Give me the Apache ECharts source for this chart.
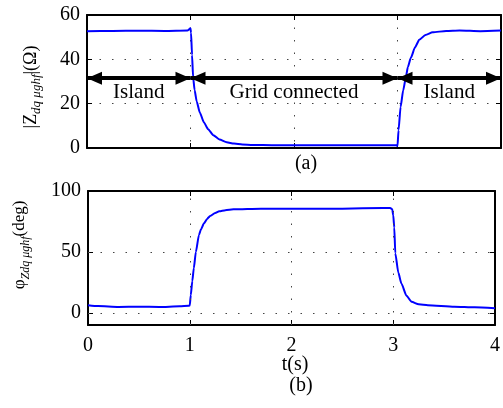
<!DOCTYPE html>
<html>
<head>
<meta charset="utf-8">
<script src="https://cdn.jsdelivr.net/npm/echarts@6/dist/echarts.min.js"></script>
<style>
  html, body { margin: 0; padding: 0; background: #fff; }
  #chart { width: 503px; height: 408px; }
</style>
</head>
<body>
<div id="chart"></div>
<script>
// (a) impedance magnitude
var tZ = [0, 0.25, 0.5, 0.75, 0.97, 1.0, 1.005, 1.015, 1.025, 1.04, 1.06, 1.09, 1.13, 1.17, 1.22, 1.28, 1.35, 1.42, 1.5, 1.6, 1.8, 2.0, 2.5, 2.99, 3.0, 3.01, 3.03, 3.055, 3.08, 3.1, 3.13, 3.17, 3.21, 3.27, 3.34, 3.47, 3.6, 3.8, 4.0]
var zMag = [52.7, 52.8, 52.9, 52.8, 53.0, 54.0, 52, 42, 32, 26, 21, 16, 11.5, 8.5, 5.8, 3.8, 2.6, 2.0, 1.6, 1.4, 1.25, 1.2, 1.2, 1.2, 0.9, 8, 18.6, 26, 31.7, 36.5, 40.8, 45.5, 48.8, 51, 52.2, 52.8, 53, 52.7, 53]
// (b) impedance phase
var tP = [0, 0.1, 0.3, 0.5, 0.7, 0.9, 0.99, 1.0, 1.01, 1.025, 1.04, 1.06, 1.09, 1.11, 1.14, 1.17, 1.2, 1.25, 1.29, 1.35, 1.43, 1.7, 2.0, 2.5, 2.9, 2.97, 2.99, 3.0, 3.01, 3.02, 3.05, 3.08, 3.13, 3.18, 3.25, 3.34, 3.6, 3.8, 4.0]
var phi = [6.3, 5.5, 4.8, 5.0, 4.8, 5.3, 5.7, 6, 14.5, 26, 36.6, 50, 63.7, 68.5, 73.5, 77, 79.5, 82, 83.4, 84.3, 85, 85.5, 85.5, 85.5, 86, 86, 85, 80, 70, 49, 33, 24, 14, 9, 7, 6.3, 5, 4.5, 3.8]

// mode arrows
var modeStart = [0, 1, 3]
var modeEnd = [1, 3, 4]
var modeNames = ['Island', 'Grid connected', 'Island']
var arrowLevel = 31.5

var yTicksB = [0, 50, 100]
var gridXB = [1, 2, 3]
var gridYB = [0, 50]

var FONT = "'Liberation Serif', 'DejaVu Serif', serif"

function pairs(xs, ys) {
  var out = []
  for (var i = 0; i < xs.length; i++) out.push([xs[i], ys[i]])
  return out
}

var arrowData = []
for (var i = 0; i < modeNames.length; i++) {
  arrowData.push([
    { coord: [modeStart[i], arrowLevel], name: modeNames[i] },
    { coord: [modeEnd[i], arrowLevel] }
  ])
}

var gridLineData = []
gridXB.forEach(function (v) { gridLineData.push({ xAxis: v }) })
gridYB.forEach(function (v) { gridLineData.push({ yAxis: v }) })

var dotted = { color: '#444', width: 1, type: [1.5, 11] }
var boxLine = { show: true, onZero: false, lineStyle: { color: '#000', width: 2 } }
var tickIn = { show: true, inside: true, length: 5, lineStyle: { color: '#000', width: 1 } }
var tickLabel = { color: '#000', fontSize: 20, fontFamily: FONT }

function yName(text, x, y, size, subSize) {
  return {
    type: 'text', x: x, y: y, rotation: Math.PI / 2,
    style: {
      text: text, align: 'center', verticalAlign: 'middle',
      rich: {
        n: { fontSize: size, fontFamily: FONT, fill: '#000', verticalAlign: 'middle' },
        s: { fontSize: subSize, fontStyle: 'italic', fontFamily: FONT, fill: '#000',
          padding: [11, 0, 0, 0], verticalAlign: 'middle' }
      }
    }
  }
}

var chart = echarts.init(document.getElementById('chart'))
chart.setOption({
  animation: false,
  grid: [
    { left: 87, right: 2, top: 15, height: 133 },
    { left: 88, right: 3, top: 191, height: 134 }
  ],
  xAxis: [
    { gridIndex: 0, type: 'value', min: 0, max: 4, interval: 1, position: 'bottom',
      axisLine: boxLine, axisTick: tickIn, axisLabel: { show: false },
      splitLine: { show: true, lineStyle: dotted } },
    { gridIndex: 0, type: 'value', min: 0, max: 4, interval: 1, position: 'top',
      axisLine: boxLine, axisTick: tickIn, axisLabel: { show: false }, splitLine: { show: false } },
    { gridIndex: 1, type: 'value', min: 0, max: 4, interval: 1, position: 'bottom',
      axisLine: boxLine, axisTick: tickIn,
      axisLabel: Object.assign({ margin: 11 }, tickLabel), splitLine: { show: false } },
    { gridIndex: 1, type: 'value', min: 0, max: 4, interval: 1, position: 'top',
      axisLine: boxLine, axisTick: tickIn, axisLabel: { show: false }, splitLine: { show: false } }
  ],
  yAxis: [
    { gridIndex: 0, type: 'value', min: 0, max: 60, interval: 20, position: 'left',
      axisLine: boxLine, axisTick: tickIn,
      axisLabel: Object.assign({ margin: 7 }, tickLabel),
      splitLine: { show: true, lineStyle: dotted } },
    { gridIndex: 0, type: 'value', min: 0, max: 60, interval: 20, position: 'right',
      axisLine: boxLine, axisTick: tickIn, axisLabel: { show: false }, splitLine: { show: false } },
    { gridIndex: 1, type: 'value', min: -10, max: 100, position: 'left',
      axisLine: boxLine,
      axisTick: Object.assign({ customValues: yTicksB }, tickIn),
      axisLabel: Object.assign({ margin: 7, customValues: yTicksB }, tickLabel),
      splitLine: { show: false } },
    { gridIndex: 1, type: 'value', min: -10, max: 100, position: 'right',
      axisLine: boxLine,
      axisTick: Object.assign({ customValues: yTicksB }, tickIn),
      axisLabel: { show: false }, splitLine: { show: false } }
  ],
  series: [
    {
      name: 'grid b', type: 'line', xAxisIndex: 2, yAxisIndex: 2, data: [], z: 1,
      markLine: { silent: true, symbol: ['none', 'none'], label: { show: false },
        lineStyle: dotted, data: gridLineData }
    },
    {
      name: '|Z|', type: 'line', xAxisIndex: 0, yAxisIndex: 0, z: 3,
      data: pairs(tZ, zMag), showSymbol: false, smooth: 0.2, smoothMonotone: 'x',
      lineStyle: { color: '#0000ff', width: 2 },
      markLine: {
        silent: true,
        symbol: ['triangle', 'triangle'],
        symbolSize: [13, 15],
        // shift each head back along the line so its tip sits on the end point
        symbolOffset: [[0, 7.5], [0, 7.5]],
        lineStyle: { color: '#000', width: 4, type: 'solid' },
        label: { show: true, position: 'insideMiddleBottom', distance: 4, formatter: '{b}',
          color: '#000', fontSize: 21, fontFamily: FONT },
        data: arrowData
      }
    },
    {
      name: 'phi', type: 'line', xAxisIndex: 2, yAxisIndex: 2, z: 3,
      data: pairs(tP, phi), showSymbol: false, smooth: 0.2, smoothMonotone: 'x',
      lineStyle: { color: '#0000ff', width: 2 }
    }
  ],
  graphic: [
    yName('{n||Z}{s|dq μghf}{n||(Ω)}', 31, 87, 18, 13),
    yName('{n|φ}{s|Zdq μghf}{n|(deg)}', 20, 245, 17, 12),
    { type: 'text', x: 306, y: 164,
      style: { text: '(a)', align: 'center', verticalAlign: 'middle', fontSize: 20, fontFamily: FONT, fill: '#000' } },
    { type: 'text', x: 295, y: 365,
      style: { text: 't(s)', align: 'center', verticalAlign: 'middle', fontSize: 20, fontFamily: FONT, fill: '#000' } },
    { type: 'text', x: 301, y: 386,
      style: { text: '(b)', align: 'center', verticalAlign: 'middle', fontSize: 20, fontFamily: FONT, fill: '#000' } }
  ]
})
</script>
</body>
</html>
